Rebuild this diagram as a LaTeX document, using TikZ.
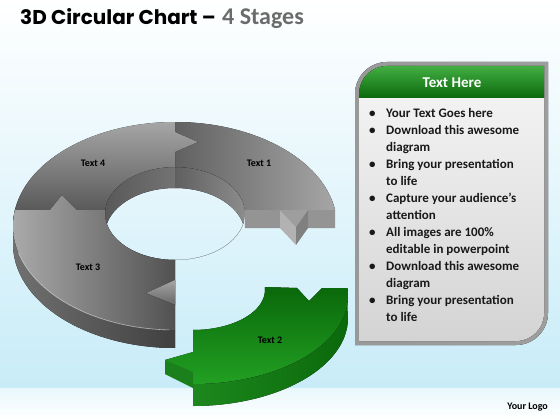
\documentclass[tikz,border=0pt]{standalone}
\usepackage{fontspec}
\setmainfont{Carlito}
\newfontfamily\titlefont{Poppins}
\usetikzlibrary{calc,positioning}
\newcommand{\wallh}{18}
\newcommand{\greenwall}{22}
\definecolor{skyblue}{HTML}{C8ECF8}
\definecolor{leafgreen}{HTML}{22A022}
\definecolor{darkleaf}{HTML}{0A680A}

\tikzset{
  outer arc/.style={x radius=162, y radius=104},
  inner arc/.style={x radius=70, y radius=46.5},
  outer two/.style={x radius=155, y radius=88},
  inner two/.style={x radius=72, y radius=40},
  label text/.style={font=\bfseries\fontsize{10}{12}\selectfont, text=black},
  list text/.style={font=\bfseries\fontsize{13}{17}\selectfont, text=black!90, align=left, inner sep=0pt},
}

\begin{document}
\begin{tikzpicture}[x=1pt,y=-1pt]
\useasboundingbox (0,0) rectangle (560,420);
%background
\fill[top color=white, bottom color=skyblue] (0,0) rectangle (560,388);
\fill[top color=skyblue!40, bottom color=white] (0,388) rectangle (560,420);

\coordinate (oc) at (175,226);
\coordinate (ic) at (175,213.5);
\coordinate (gc) at (193,296);
\coordinate (gi) at (193,290);

%outer wall of Text 3
\fill[left color=black!55, right color=black!75]
  ($(oc)+(188.85:162 and 104)$) arc[outer arc, start angle=188.85, end angle=90]
  -- ++(0,\wallh) arc[outer arc, start angle=90, end angle=188.85] -- cycle;

%back wall of the hole
\begin{scope}
  \clip (ic) ellipse[inner arc];
  \clip (0,0) rectangle (175,420);
  \fill[even odd rule, left color=black!65, middle color=black!18, right color=black!45]
    (ic) ellipse[inner arc] ($(ic)+(0,21)$) ellipse[inner arc];
\end{scope}
\begin{scope}
  \clip (ic) ellipse[inner arc];
  \clip (175,0) rectangle (560,420);
  \fill[even odd rule, left color=black!80, middle color=black!75, right color=black!45]
    (ic) ellipse[inner arc] ($(ic)+(0,21)$) ellipse[inner arc];
\end{scope}

%Text 1
\fill[left color=black!62, right color=black!35]
  ($(oc)+(270:162 and 104)$) arc[outer arc, start angle=270, end angle=351.15]
  -- ($(ic)+(355.7:70 and 46.5)$) arc[inner arc, start angle=355.7, end angle=270] -- cycle;
%end face of Text 1 and its tip
\fill[black!42] ($(ic)+(355.7:70 and 46.5)$) -- ($(oc)+(351.15:162 and 104)$)
  -- ++(0,\wallh) -- ($(ic)+(355.7:70 and 46.5)+(0,\wallh)$) -- cycle;
\fill[black!30] (280,210) -- (296,227) -- (296,245) -- (280,228) -- cycle;
\fill[black!50] (296,227) -- (308,210) -- (308,228) -- (296,245) -- cycle;
\fill[black!38] (280,210) -- (308,210) -- (296,227) -- cycle;

%Text 4
\fill[top color=black!35, bottom color=black!65]
  ($(oc)+(188.85:162 and 104)$) arc[outer arc, start angle=188.85, end angle=270]
  -- (175,132) -- (198,142) -- (175,152)
  -- ($(ic)+(270:70 and 46.5)$) arc[inner arc, start angle=270, end angle=184.3] -- cycle;

%Text 3
\fill[left color=black!32, right color=black!68]
  ($(oc)+(188.85:162 and 104)$) arc[outer arc, start angle=188.85, end angle=90]
  -- ($(ic)+(90:70 and 46.5)$) arc[inner arc, start angle=90, end angle=184.3]
  -- (77,210) -- (62,195) -- (50,210) -- cycle;
\fill[top color=black!35, bottom color=black!60] (175,280) -- (146,293) -- (175,305) -- cycle;
\draw[white, opacity=0.6, line width=0.6]
  ($(oc)+(165:162 and 104)$) arc[outer arc, start angle=165, end angle=92];

%Text 2, moved out
\fill[left color=leafgreen!85!black, middle color=leafgreen!75!white, right color=darkleaf]
  ($(gc)+(90:155 and 88)$) arc[outer two, start angle=90, end angle=-5.2]
  -- ++(0,\greenwall) arc[outer two, start angle=-5.2, end angle=90] -- cycle;
\fill[top color=darkleaf, bottom color=leafgreen]
  ($(gi)+(90:72 and 40)$) -- (193,352) -- (165,360) -- (193,372)
  -- ($(gc)+(90:155 and 88)$) arc[outer two, start angle=90, end angle=-5.2]
  -- (322,288) -- (309,301) -- (297,288)
  -- ($(gi)+(-4.3:72 and 40)$) arc[inner two, start angle=-4.3, end angle=90] -- cycle;
\fill[leafgreen!80!black] (165,360) -- (193,372) -- (193,388) -- (165,374) -- cycle;

\node[label text] (t1) at (259,163) {Text 1};
\node[label text] (t2) at (270,340) {Text 2};
\node[label text] (t3) at (88,267) {Text 3};
\node[label text] (t4) at (93,163) {Text 4};

%text panel
\fill[left color=black!40, middle color=black!5, right color=black!38]
  (355,345) -- (355,94) arc[start angle=180, end angle=270, radius=32]
  -- (548,62) -- (548,313) arc[start angle=0, end angle=90, radius=32] -- cycle;
\fill[top color=black!5, bottom color=black!17]
  (359,98) -- (544,98) -- (544,313) arc[start angle=0, end angle=90, radius=28] -- (359,341) -- cycle;
\fill[top color=leafgreen!85!white, bottom color=darkleaf]
  (359,98) -- (359,94) arc[start angle=180, end angle=270, radius=28] -- (544,66) -- (544,98) -- cycle;
\node[font=\bfseries\fontsize{15}{18}\selectfont, text=white] (head) at (452,83) {Text Here};
\node[list text, anchor=north west] (list) at (369,108) {%
\makebox[17pt][l]{\textbullet}Your Text Goes here\\
\makebox[17pt][l]{\textbullet}Download this awesome\\
\hspace*{17pt}diagram\\
\makebox[17pt][l]{\textbullet}Bring your presentation\\
\hspace*{17pt}to life\\
\makebox[17pt][l]{\textbullet}Capture your audience’s\\
\hspace*{17pt}attention\\
\makebox[17pt][l]{\textbullet}All images are 100\%\\
\hspace*{17pt}editable in powerpoint\\
\makebox[17pt][l]{\textbullet}Download this awesome\\
\hspace*{17pt}diagram\\
\makebox[17pt][l]{\textbullet}Bring your presentation\\
\hspace*{17pt}to life};

%title and logo
\node[anchor=base west, inner sep=0pt, font=\titlefont\bfseries\fontsize{20}{24}\selectfont] (title) at (20,25) {3D Circular Chart –};
\node[anchor=base west, inner sep=0pt, font=\bfseries\fontsize{24}{28}\selectfont, text=black!58] (stages) at ([xshift=6pt]title.base east) {4 Stages};
\node[font=\bfseries\fontsize{10}{12}\selectfont, anchor=base east, inner sep=0pt] (logo) at (548,409) {Your Logo};
\end{tikzpicture}
\end{document}
